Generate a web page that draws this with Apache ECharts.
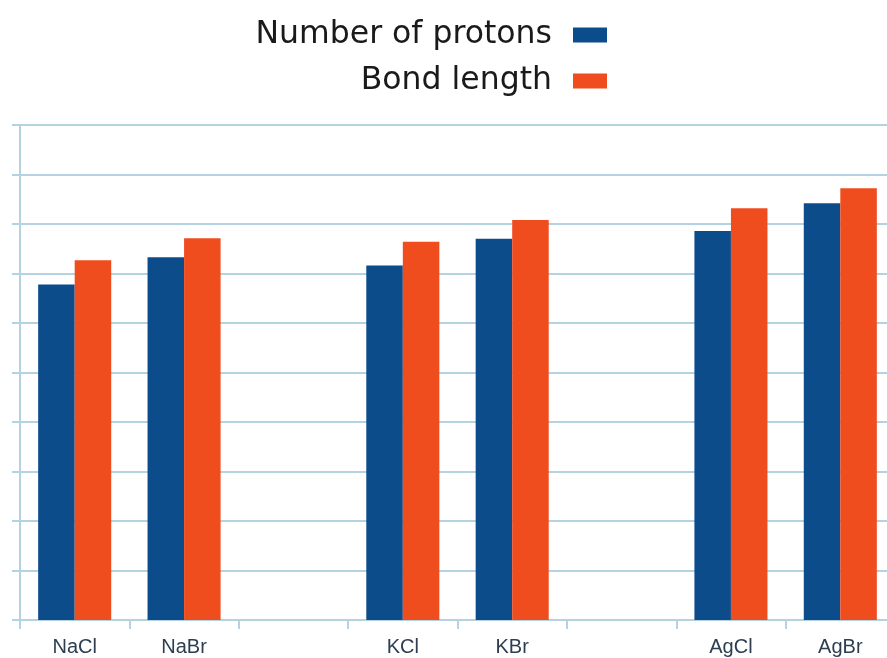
<!DOCTYPE html>
<html>
<head>
<meta charset="utf-8">
<style>
  html, body { margin: 0; padding: 0; background: #ffffff; }
  #chart { width: 887px; height: 658px; }
</style>
<script src="https://cdn.jsdelivr.net/npm/echarts@6/dist/echarts.min.js"></script>
</head>
<body>
<div id="chart"></div>
<script>
// Compounds along the x axis (blank slots separate the Na, K and Ag groups)
const categories = ['NaCl', 'NaBr', '', 'KCl', 'KBr', '', 'AgCl', 'AgBr'];

// Relative values plotted for each compound
const protons = [6.78, 7.33, null, 7.16, 7.70, null, 7.86, 8.42];
const bondLength = [7.27, 7.71, null, 7.64, 8.08, null, 8.32, 8.72];

const seriesNames = ['Number of protons', 'Bond length'];

const BLUE = '#0d4c8b';
const ORANGE = '#f04d1f';
const GRID_BLUE = '#b3d3e3';

const chart = echarts.init(document.getElementById('chart'), null, { renderer: 'canvas' });

chart.setOption({
  backgroundColor: '#ffffff',
  animation: false,
  legend: {
    orient: 'vertical',
    align: 'right',
    right: 275,
    top: 14,
    itemWidth: 34,
    itemHeight: 15,
    itemGap: 14,
    icon: 'rect',
    textStyle: {
      fontFamily: 'DejaVu Sans',
      fontSize: 31.5,
      color: '#1a1a1a',
      padding: [0, 16, 0, 0]
    },
    data: seriesNames
  },
  grid: {
    left: 20,
    right: -8,
    top: 125,
    bottom: 38,
    containLabel: false,
    outerBoundsMode: 'none'
  },
  xAxis: {
    type: 'category',
    data: categories,
    boundaryGap: true,
    axisLine: { show: true, lineStyle: { color: GRID_BLUE, width: 2 } },
    axisTick: { show: true, length: 9, alignWithLabel: false, lineStyle: { color: GRID_BLUE, width: 2 } },
    axisLabel: {
      show: true,
      interval: 0,
      margin: 17,
      fontFamily: 'Liberation Sans',
      fontSize: 20,
      color: '#2d3e50'
    },
    splitLine: { show: false }
  },
  yAxis: {
    type: 'value',
    min: 0,
    max: 10,
    interval: 1,
    axisLine: { show: true, lineStyle: { color: GRID_BLUE, width: 2 } },
    axisTick: { show: true, length: 8, lineStyle: { color: GRID_BLUE, width: 2 } },
    axisLabel: { show: false },
    splitLine: { show: true, lineStyle: { color: GRID_BLUE, width: 2 } }
  },
  series: [
    {
      name: seriesNames[0],
      type: 'bar',
      data: protons,
      barWidth: '33.4%',
      barGap: '0%',
      itemStyle: { color: BLUE }
    },
    {
      name: seriesNames[1],
      type: 'bar',
      data: bondLength,
      barWidth: '33.4%',
      barGap: '0%',
      itemStyle: { color: ORANGE }
    }
  ]
});
</script>
</body>
</html>
